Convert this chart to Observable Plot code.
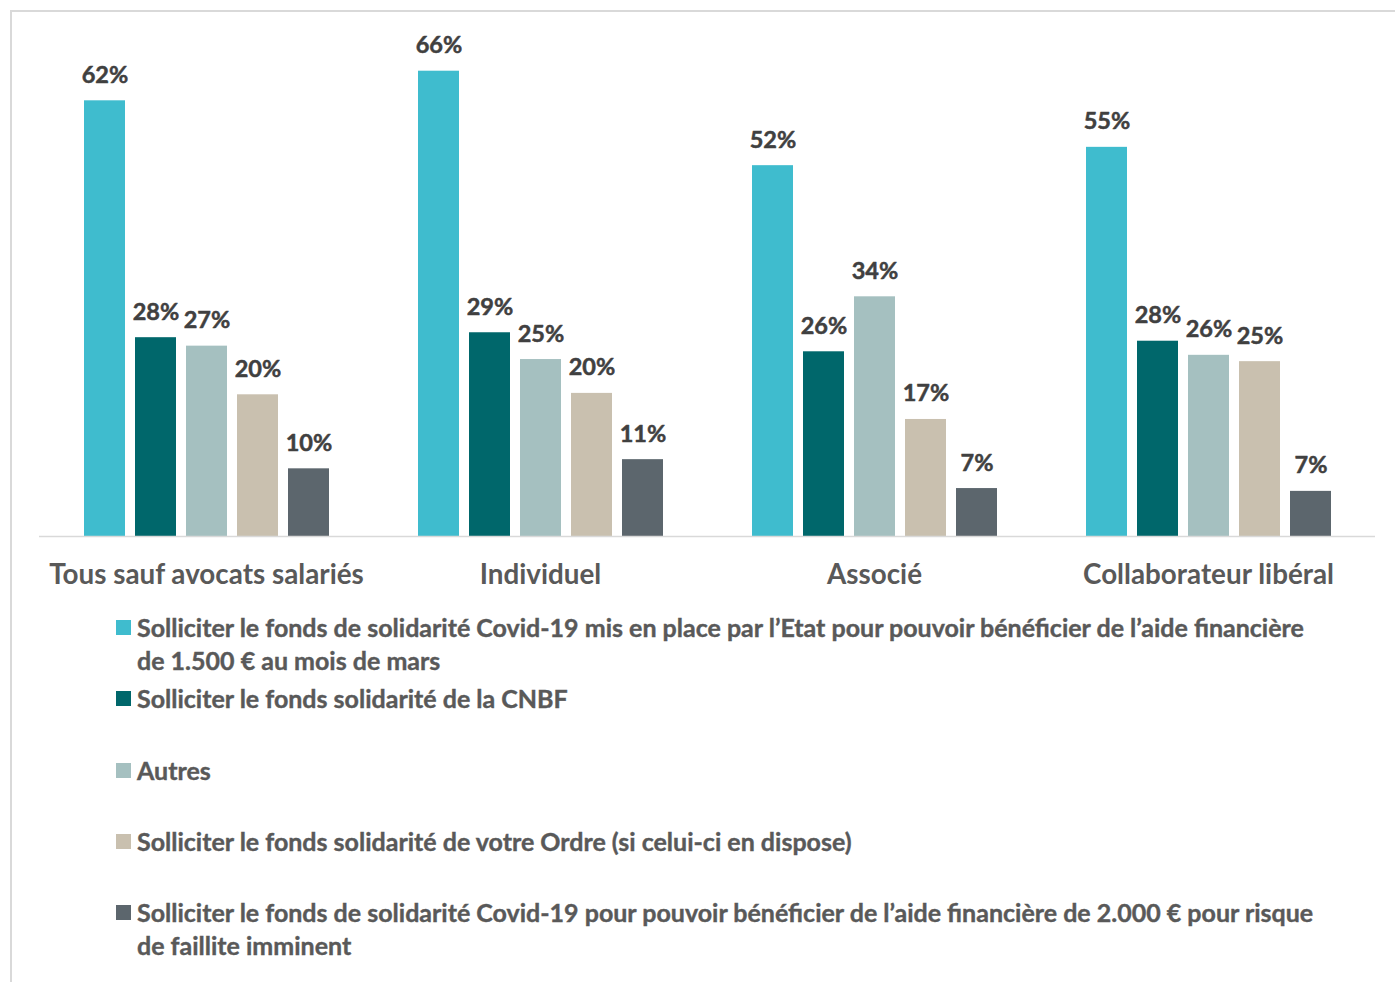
<!DOCTYPE html>
<html>
<head>
<meta charset="utf-8">
<script src="https://cdn.jsdelivr.net/npm/d3@7"></script>
<script src="https://cdn.jsdelivr.net/npm/@observablehq/plot@0.6"></script>
<style>
  html, body { margin: 0; padding: 0; background: #fff; }
  body { width: 1395px; height: 982px; position: relative; overflow: hidden; font-family: "Lato", "Open Sans", sans-serif; }
  #frame { position: absolute; left: 10px; top: 10px; right: 0; bottom: -5px; border-top: 2px solid #d9d9d9; border-left: 2px solid #d9d9d9; }
  #chart { position: absolute; left: 0; top: 0; }
  #legend { position: absolute; left: 116px; top: 611px; display: grid; grid-auto-rows: 71.25px; }
  .item { display: flex; align-items: flex-start; }
  .sw { width: 15px; height: 15px; flex: none; margin-top: 9px; margin-right: 6px; }
  .lab { width: 1185px; font-size: 25px; line-height: 33px; font-weight: bold; color: #595959; -webkit-text-stroke: 0.4px #595959; }
</style>
</head>
<body>
<div id="frame"></div>
<div id="chart"></div>
<div id="legend"></div>
<script>
const groups = ["Tous sauf avocats salariés", "Individuel", "Associé", "Collaborateur libéral"];
const series = [
  "Solliciter le fonds de solidarité Covid-19 mis en place par l’Etat pour pouvoir bénéficier de l’aide financière de 1.500 € au mois de mars",
  "Solliciter le fonds solidarité de la CNBF",
  "Autres",
  "Solliciter le fonds solidarité de votre Ordre (si celui-ci en dispose)",
  "Solliciter le fonds de solidarité Covid-19 pour pouvoir bénéficier de l’aide financière de 2.000 € pour risque de faillite imminent"
];
const colors = ["#3FBCCE", "#00676B", "#A5C0C0", "#C9C0AF", "#5C666D"];

// values per series, in the order of groups
const fonds1500 = [61.8, 66.0, 52.6, 55.2];
const fondsCnbf = [28.2, 28.9, 26.2, 27.7];
const autres    = [27.0, 25.1, 34.0, 25.7];
const fondsOrdre = [20.1, 20.3, 16.6, 24.8];
const fonds2000 = [9.6, 10.9, 6.8, 6.4];

// printed labels
const lab1500  = ["62%", "66%", "52%", "55%"];
const labCnbf  = ["28%", "29%", "26%", "28%"];
const labAutres = ["27%", "25%", "34%", "26%"];
const labOrdre = ["20%", "20%", "17%", "25%"];
const lab2000  = ["10%", "11%", "7%", "7%"];

const valueSets = [fonds1500, fondsCnbf, autres, fondsOrdre, fonds2000];
const labelSets = [lab1500, labCnbf, labAutres, labOrdre, lab2000];

const data = [];
groups.forEach((g, gi) => {
  series.forEach((s, si) => {
    data.push({group: g, series: s, value: valueSets[si][gi], label: labelSets[si][gi]});
  });
});

const chart = Plot.plot({
  width: 1395,
  height: 600,
  marginTop: 42.5,
  marginBottom: 64,
  marginLeft: 38,
  marginRight: 20,
  style: {fontFamily: "Lato, 'Open Sans', sans-serif", background: "transparent"},
  fx: {domain: groups, padding: 0, label: null},
  x: {domain: series, axis: null, paddingInner: 0.2, paddingOuter: 0.86},
  y: {domain: [0, 70], axis: null},
  color: {domain: series, range: colors},
  marks: [
    Plot.barY(data, {fx: "group", x: "series", y: "value", fill: "series"}),
    Plot.ruleY([0], {stroke: "#d9d9d9", strokeWidth: 1.5}),
    Plot.text(data, {fx: "group", x: "series", y: "value", text: "label", lineAnchor: "bottom", dy: -18,
      fontSize: 23.5, fontWeight: "bold", fill: "#404040", stroke: "#404040", strokeWidth: 0.5}),
    Plot.axisFx({anchor: "bottom", tickSize: 0, tickPadding: 28, fontSize: 27.8, fontWeight: "bold",
      fill: "#595959", stroke: "#595959", strokeWidth: 0.4, label: null})
  ]
});
document.getElementById("chart").appendChild(chart);

const legend = document.getElementById("legend");
series.forEach((s, i) => {
  const item = document.createElement("div");
  item.className = "item";
  const sw = document.createElement("div");
  sw.className = "sw";
  sw.style.background = colors[i];
  const lab = document.createElement("div");
  lab.className = "lab";
  lab.textContent = s;
  item.appendChild(sw);
  item.appendChild(lab);
  legend.appendChild(item);
});
</script>
</body>
</html>
